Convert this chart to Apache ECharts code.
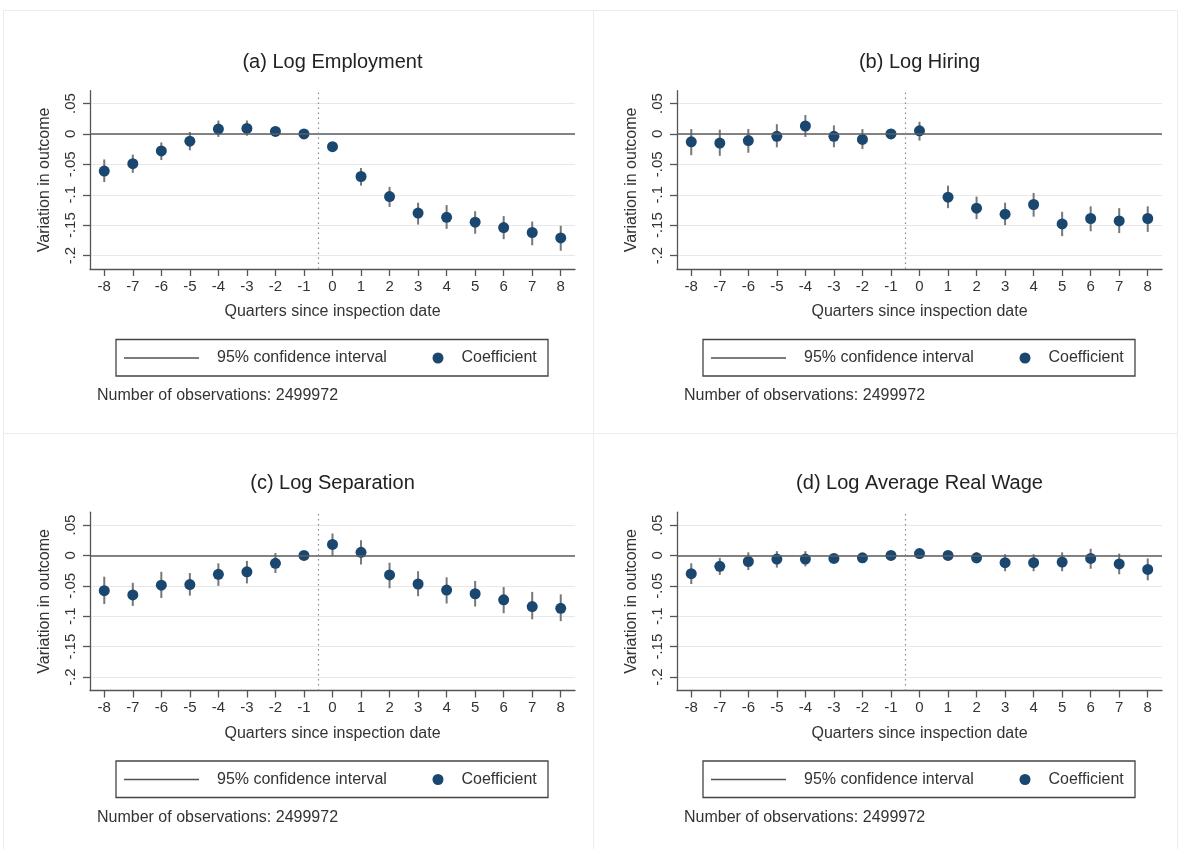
<!DOCTYPE html>
<html>
<head>
<meta charset="utf-8">
<script src="https://cdn.jsdelivr.net/npm/echarts@6/dist/echarts.min.js"></script>
<style>
  html, body { margin: 0; padding: 0; background: #ffffff; }
  #chart { width: 1181px; height: 849px; }
</style>
</head>
<body>
<div id="chart"></div>
<script>
// Event-study coefficients by quarter relative to the inspection date (-1 is the reference quarter)
const quarters = [-8, -7, -6, -5, -4, -3, -2, -1, 0, 1, 2, 3, 4, 5, 6, 7, 8];

const panelTitles = ['(a) Log Employment', '(b) Log Hiring', '(c) Log Separation', '(d) Log Average Real Wage'];
const yTickValues = [-0.2, -0.15, -0.1, -0.05, 0, 0.05];
const yTickLabels = ['-.2', '-.15', '-.1', '-.05', '0', '.05'];
const legendLabels = ['95% confidence interval', 'Coefficient'];
const xAxisTitle = 'Quarters since inspection date';
const yAxisTitle = 'Variation in outcome';
const noteText = 'Number of observations: 2499972';

// (a) Log Employment
const employmentCoef = [-0.061, -0.049, -0.028, -0.012, 0.008, 0.009, 0.004, 0, -0.021, -0.070, -0.103, -0.130, -0.137, -0.145, -0.154, -0.162, -0.171];
const employmentLow  = [-0.079, -0.064, -0.043, -0.027, -0.005, -0.003, 0.000, null, -0.028, -0.085, -0.120, -0.149, -0.156, -0.164, -0.173, -0.183, -0.192];
const employmentHigh = [-0.042, -0.034, -0.014, 0.003, 0.022, 0.022, 0.008, null, -0.014, -0.056, -0.087, -0.113, -0.117, -0.127, -0.135, -0.144, -0.151];

// (b) Log Hiring
const hiringCoef = [-0.013, -0.015, -0.011, -0.004, 0.013, -0.004, -0.009, 0, 0.005, -0.104, -0.122, -0.132, -0.116, -0.148, -0.139, -0.143, -0.139];
const hiringLow  = [-0.035, -0.036, -0.031, -0.022, -0.005, -0.022, -0.025, null, -0.011, -0.122, -0.140, -0.150, -0.136, -0.168, -0.160, -0.163, -0.161];
const hiringHigh = [0.008, 0.007, 0.008, 0.016, 0.031, 0.014, 0.008, null, 0.020, -0.085, -0.103, -0.113, -0.097, -0.128, -0.119, -0.122, -0.119];

// (c) Log Separation
const separationCoef = [-0.058, -0.065, -0.049, -0.048, -0.031, -0.027, -0.013, 0, 0.018, 0.005, -0.032, -0.047, -0.057, -0.063, -0.073, -0.084, -0.087];
const separationLow  = [-0.080, -0.083, -0.070, -0.066, -0.050, -0.046, -0.029, null, -0.001, -0.015, -0.054, -0.067, -0.079, -0.084, -0.095, -0.105, -0.108];
const separationHigh = [-0.035, -0.045, -0.027, -0.029, -0.013, -0.009, 0.004, null, 0.036, 0.025, -0.012, -0.026, -0.036, -0.042, -0.052, -0.060, -0.064];

// (d) Log Average Real Wage
const wageCoef = [-0.030, -0.018, -0.010, -0.006, -0.006, -0.005, -0.004, 0, 0.003, 0.000, -0.004, -0.012, -0.012, -0.011, -0.005, -0.014, -0.023];
const wageLow  = [-0.047, -0.032, -0.024, -0.020, -0.018, -0.012, -0.009, null, -0.002, -0.004, -0.013, -0.026, -0.026, -0.026, -0.022, -0.031, -0.041];
const wageHigh = [-0.013, -0.004, 0.005, 0.007, 0.007, 0.002, 0.001, null, 0.008, 0.004, 0.005, 0.002, 0.002, 0.005, 0.011, 0.003, -0.005];

const panels = [
  { title: panelTitles[0], coef: employmentCoef, low: employmentLow, high: employmentHigh },
  { title: panelTitles[1], coef: hiringCoef, low: hiringLow, high: hiringHigh },
  { title: panelTitles[2], coef: separationCoef, low: separationLow, high: separationHigh },
  { title: panelTitles[3], coef: wageCoef, low: wageLow, high: wageHigh }
];

const FONT = '"Liberation Sans", Arial, Helvetica, sans-serif';
const TEXT = '#333333';
const AXIS = '#555555';
const NAVY = '#1a476f';

// panel offsets in a 2x2 arrangement
const offsets = [[0, 0], [587, 0], [0, 421.5], [587, 421.5]];
const PLOT = { left: 90, top: 90.7, width: 485, height: 178.3 };

function yLabel(v) {
  const k = yTickValues.findIndex(t => Math.abs(t - v) < 1e-9);
  return k >= 0 ? yTickLabels[k] : '';
}

const grid = [], xAxis = [], yAxis = [], series = [], title = [], legend = [], graphic = [];

// light frames around each panel
graphic.push(
  { type: 'rect', shape: { x: 3.5, y: 10.5, width: 1174, height: 845 }, style: { fill: 'none', stroke: '#ececec', lineWidth: 1 }, silent: true },
  { type: 'line', shape: { x1: 593.5, y1: 10.5, x2: 593.5, y2: 849 }, style: { stroke: '#ececec', lineWidth: 1 }, silent: true },
  { type: 'line', shape: { x1: 3.5, y1: 433.5, x2: 1177.5, y2: 433.5 }, style: { stroke: '#ececec', lineWidth: 1 }, silent: true }
);

panels.forEach((p, i) => {
  const [dx, dy] = offsets[i];
  const cx = PLOT.left + dx + PLOT.width / 2;

  grid.push({
    left: PLOT.left + dx, top: PLOT.top + dy, width: PLOT.width, height: PLOT.height,
    containLabel: false, outerBoundsMode: 'none'
  });

  xAxis.push({
    type: 'value', gridIndex: i, min: -8.5, max: 8.5,
    name: xAxisTitle, nameLocation: 'middle', nameGap: 35,
    nameTextStyle: { fontFamily: FONT, fontSize: 16, color: TEXT },
    axisLine: { show: true, onZero: false, lineStyle: { color: AXIS, width: 1.3 } },
    axisTick: { show: true, length: 7, customValues: quarters, lineStyle: { color: AXIS, width: 1.3 } },
    axisLabel: { show: true, customValues: quarters, margin: 10, fontFamily: FONT, fontSize: 15, color: TEXT,
                 formatter: v => String(v) },
    splitLine: { show: false }
  });

  yAxis.push({
    type: 'value', gridIndex: i, min: -0.222, max: 0.071,
    name: yAxisTitle, nameLocation: 'middle', nameRotate: 90, nameGap: 37,
    nameTextStyle: { fontFamily: FONT, fontSize: 16, color: TEXT },
    axisLine: { show: true, onZero: false, lineStyle: { color: AXIS, width: 1.3 } },
    axisTick: { show: true, length: 7, customValues: yTickValues, lineStyle: { color: AXIS, width: 1.3 } },
    axisLabel: { show: true, customValues: yTickValues, rotate: 90, margin: 12, fontFamily: FONT, fontSize: 15,
                 color: TEXT, formatter: yLabel },
    splitLine: { show: true, lineStyle: { color: '#e8e8e8', width: 1 } }
  });

  const ciData = [];
  quarters.forEach((q, k) => {
    if (p.low[k] !== null && p.high[k] !== null) ciData.push([q, p.low[k], p.high[k]]);
  });

  series.push({
    name: legendLabels[0], type: 'custom', xAxisIndex: i, yAxisIndex: i,
    data: ciData, encode: { x: 0, y: [1, 2] }, z: 2, silent: true,
    itemStyle: { color: '#505050' },
    renderItem: (params, api) => {
      const a = api.coord([api.value(0), api.value(1)]);
      const b = api.coord([api.value(0), api.value(2)]);
      return { type: 'line', shape: { x1: a[0], y1: a[1], x2: b[0], y2: b[1] },
               style: { stroke: '#777777', lineWidth: 2 } };
    },
    markLine: {
      silent: true, symbol: 'none', animation: false, label: { show: false },
      data: [
        { yAxis: 0, lineStyle: { color: '#5c5c5c', width: 1.5, type: 'solid' } },
        { xAxis: -0.5, lineStyle: { color: '#8a8a8a', width: 1.2, type: [1.5, 3.5] } }
      ]
    }
  });

  series.push({
    name: legendLabels[1], type: 'scatter', xAxisIndex: i, yAxisIndex: i,
    data: quarters.map((q, k) => [q, p.coef[k]]),
    symbol: 'circle', symbolSize: 11, z: 3, silent: true,
    itemStyle: { color: NAVY, opacity: 1 }
  });

  title.push({
    text: p.title, left: cx, top: 52 + dy, textAlign: 'center', padding: 0,
    textStyle: { fontFamily: FONT, fontSize: 20, fontWeight: 'normal', color: '#222222' }
  });
  title.push({
    text: noteText, left: 97 + dx, top: 388 + dy, padding: 0,
    textStyle: { fontFamily: FONT, fontSize: 16, fontWeight: 'normal', color: TEXT }
  });

  // legend frame and its two entries
  graphic.push({
    type: 'rect', silent: true,
    shape: { x: 116 + dx, y: 339.5 + dy, width: 432, height: 36.5 },
    style: { fill: 'none', stroke: '#444444', lineWidth: 1.3 }
  });
  legend.push({
    data: [{ name: legendLabels[0], icon: 'path://M0,0H100V2H0Z' }],
    left: 124 + dx, top: 349 + dy, padding: 0, itemWidth: 75, itemHeight: 12,
    selectedMode: false,
    textStyle: { fontFamily: FONT, fontSize: 16, color: TEXT, lineHeight: 18, padding: [0, 0, 0, 13] }
  });
  legend.push({
    data: [{ name: legendLabels[1], icon: 'circle' }],
    left: 432.5 + dx, top: 349 + dy, padding: 0, itemWidth: 11, itemHeight: 11,
    selectedMode: false,
    textStyle: { fontFamily: FONT, fontSize: 16, color: TEXT, lineHeight: 18, padding: [0, 0, 0, 13] }
  });
});

const chart = echarts.init(document.getElementById('chart'), null, { renderer: 'canvas' });
chart.setOption({
  backgroundColor: '#ffffff',
  animation: false,
  textStyle: { fontFamily: FONT },
  title, legend, grid, xAxis, yAxis, series, graphic
});
</script>
</body>
</html>
